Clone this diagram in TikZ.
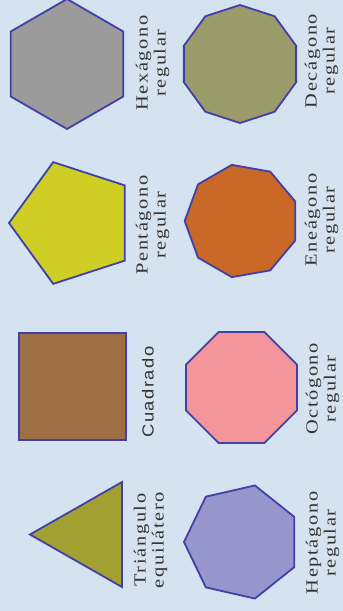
\documentclass[tikz,border=0pt]{standalone}
\usepackage{fontspec}
\usepackage{graphicx}
\setmainfont{Liberation Serif}
\newfontfamily\lblfont[LetterSpace=8]{Liberation Serif}
\newfontfamily\lblsans[LetterSpace=8]{Liberation Sans}
\definecolor{bgblue}{RGB}{213,227,240}
\definecolor{edgeblue}{RGB}{64,64,168}
\definecolor{txtgray}{RGB}{50,50,50}
\definecolor{cHex}{RGB}{155,155,155}
\definecolor{cDec}{RGB}{154,154,106}
\definecolor{cPen}{RGB}{206,206,36}
\definecolor{cEne}{RGB}{202,104,40}
\definecolor{cSq}{RGB}{158,111,69}
\definecolor{cOct}{RGB}{243,149,154}
\definecolor{cTri}{RGB}{163,160,50}
\definecolor{cHep}{RGB}{150,150,204}
\tikzset{
  poly/.style={draw=edgeblue, line width=1.8pt, line join=miter},
  lbl/.style={rotate=90, inner sep=0pt, text=txtgray,
    font=\fontsize{17}{18}\lblfont},
  lblS/.style={rotate=90, inner sep=0pt, text=txtgray,
    font=\fontsize{16}{17}\lblsans}
}
\newcommand\twolines[2]{\scalebox{1.2}[1]{\begin{tabular}{@{}c@{}}#1\\#2\end{tabular}}}
% #1 style, #2 cx, #3 cy, #4 R, #5 start angle, #6 sides
\newcommand\regpoly[6]{%
  \draw[poly,#1] ({#2+#4*cos(#5)},{#3-#4*sin(#5)})
    \foreach \k in {1,...,#6}{ -- ({#2+#4*cos(#5+\k*360/#6)},{#3-#4*sin(#5+\k*360/#6)}) } -- cycle;}
\begin{document}
\begin{tikzpicture}[x=1pt,y=-1pt]
\fill[bgblue] (0,0) rectangle (343,611);
\useasboundingbox (0,0) rectangle (343,611);
% shapes
\regpoly{fill=cHex}{67}{64}{65}{90}{6}
\regpoly{fill=cDec}{240}{64}{59}{90}{10}
\regpoly{fill=cPen}{73}{223}{64}{180}{5}
\regpoly{fill=cEne}{241.7}{221}{57}{180}{9}
\draw[poly, fill=cSq] (19,333) rectangle (126,440);
\regpoly{fill=cOct}{241.5}{387.5}{60}{22.5}{8}
\draw[poly, fill=cTri] (122,482) -- (122,587) -- (30,534.5) -- cycle;
\regpoly{fill=cHep}{242}{542}{58}{180}{7}
% labels
\node[lbl] (hexL) at (153,63) {\twolines{Hexágono}{regular}};
\node[lbl] (decL) at (322,61) {\twolines{Decágono}{regular}};
\node[lbl] (penL) at (153,225) {\twolines{Pentágono}{regular}};
\node[lbl] (eneL) at (322,220) {\twolines{Eneágono}{regular}};
\node[lblS] (cuaL) at (148,392) {\scalebox{1.15}[1]{Cuadrado}};
\node[lbl] (octL) at (323,389) {\twolines{Octógono}{regular}};
\node[lbl] (triL) at (151,540) {\twolines{Triángulo}{equilátero}};
\node[lbl] (hepL) at (323,543) {\twolines{Heptágono}{regular}};
\end{tikzpicture}
\end{document}
